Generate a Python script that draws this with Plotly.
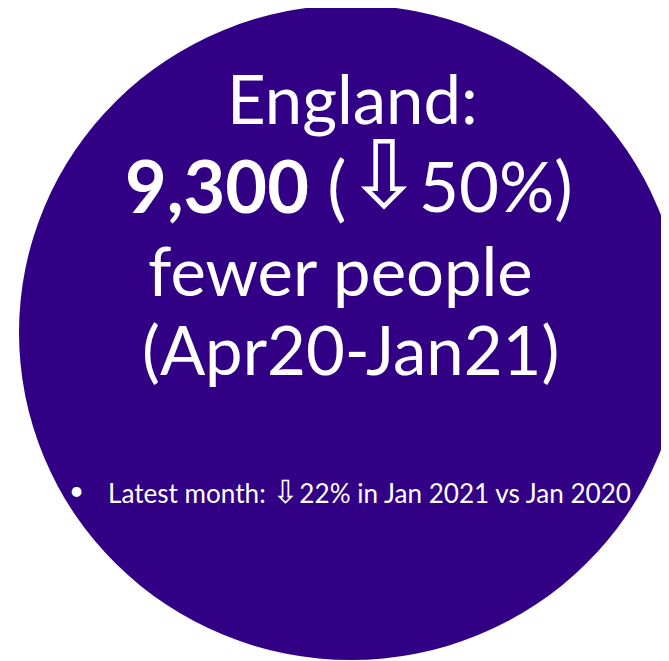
import plotly.graph_objects as go

# Content
headline_lines = ["England:", None, "fewer people", "(Apr20-Jan21)"]
line2_left = "<b>9,300</b> ("
line2_arrow = "⇩"
line2_right = "50%)"
bullet_symbol = "•"
bullet_text = "Latest month: <span style='font-size:32px'>⇩</span>22% in Jan 2021 vs Jan 2020"

W, H = 669, 661
OFF = 8  # default page body margin
circle_color = "#310084"
FONT = "Lato, Carlito, sans-serif"

fig = go.Figure()
fig.add_trace(go.Scatter(x=[300], y=[300], mode="markers", marker=dict(opacity=0),
                         hoverinfo="skip", showlegend=False))

fig.add_shape(type="circle", xref="x", yref="y", x0=19, x1=683, y0=5, y1=660,
              fillcolor=circle_color, line=dict(width=0), layer="below")

line_x = [352, 350, 340, 350]
line_y = [98, 185, 270, 349]
for txt, x, y in zip(headline_lines, line_x, line_y):
    if txt is None:
        continue
    fig.add_annotation(x=x, y=y, xref="x", yref="y", text=txt, showarrow=False,
                       font=dict(family=FONT, size=67, color="white"),
                       xanchor="center", yanchor="middle")

# second line, in three parts
fig.add_annotation(x=349, y=185, xref="x", yref="y", text=line2_left, showarrow=False,
                   font=dict(family=FONT, size=72, color="white"),
                   xanchor="right", yanchor="middle")
fig.add_annotation(x=384, y=175, xref="x", yref="y", text=line2_arrow, showarrow=False,
                   font=dict(family="DejaVu Sans, sans-serif", size=93, color="white"),
                   height=76, valign="middle",
                   xanchor="center", yanchor="middle")
fig.add_annotation(x=417, y=185, xref="x", yref="y", text=line2_right, showarrow=False,
                   font=dict(family=FONT, size=69, color="white"),
                   xanchor="left", yanchor="middle")

fig.add_annotation(x=76, y=490, xref="x", yref="y", text=bullet_symbol, showarrow=False,
                   font=dict(family=FONT, size=26, color="white"),
                   xanchor="center", yanchor="middle")
fig.add_annotation(x=106, y=490, xref="x", yref="y", text=bullet_text, showarrow=False,
                   font=dict(family=FONT, size=26.1, color="white"),
                   xanchor="left", yanchor="middle")

fig.update_layout(width=W, height=H, margin=dict(l=0, r=0, t=0, b=0),
                  paper_bgcolor="white", plot_bgcolor="white",
                  xaxis=dict(range=[OFF, W + OFF], visible=False, fixedrange=True),
                  yaxis=dict(range=[H + OFF, OFF], visible=False, fixedrange=True),
                  showlegend=False)

fig.write_html("out.html")
